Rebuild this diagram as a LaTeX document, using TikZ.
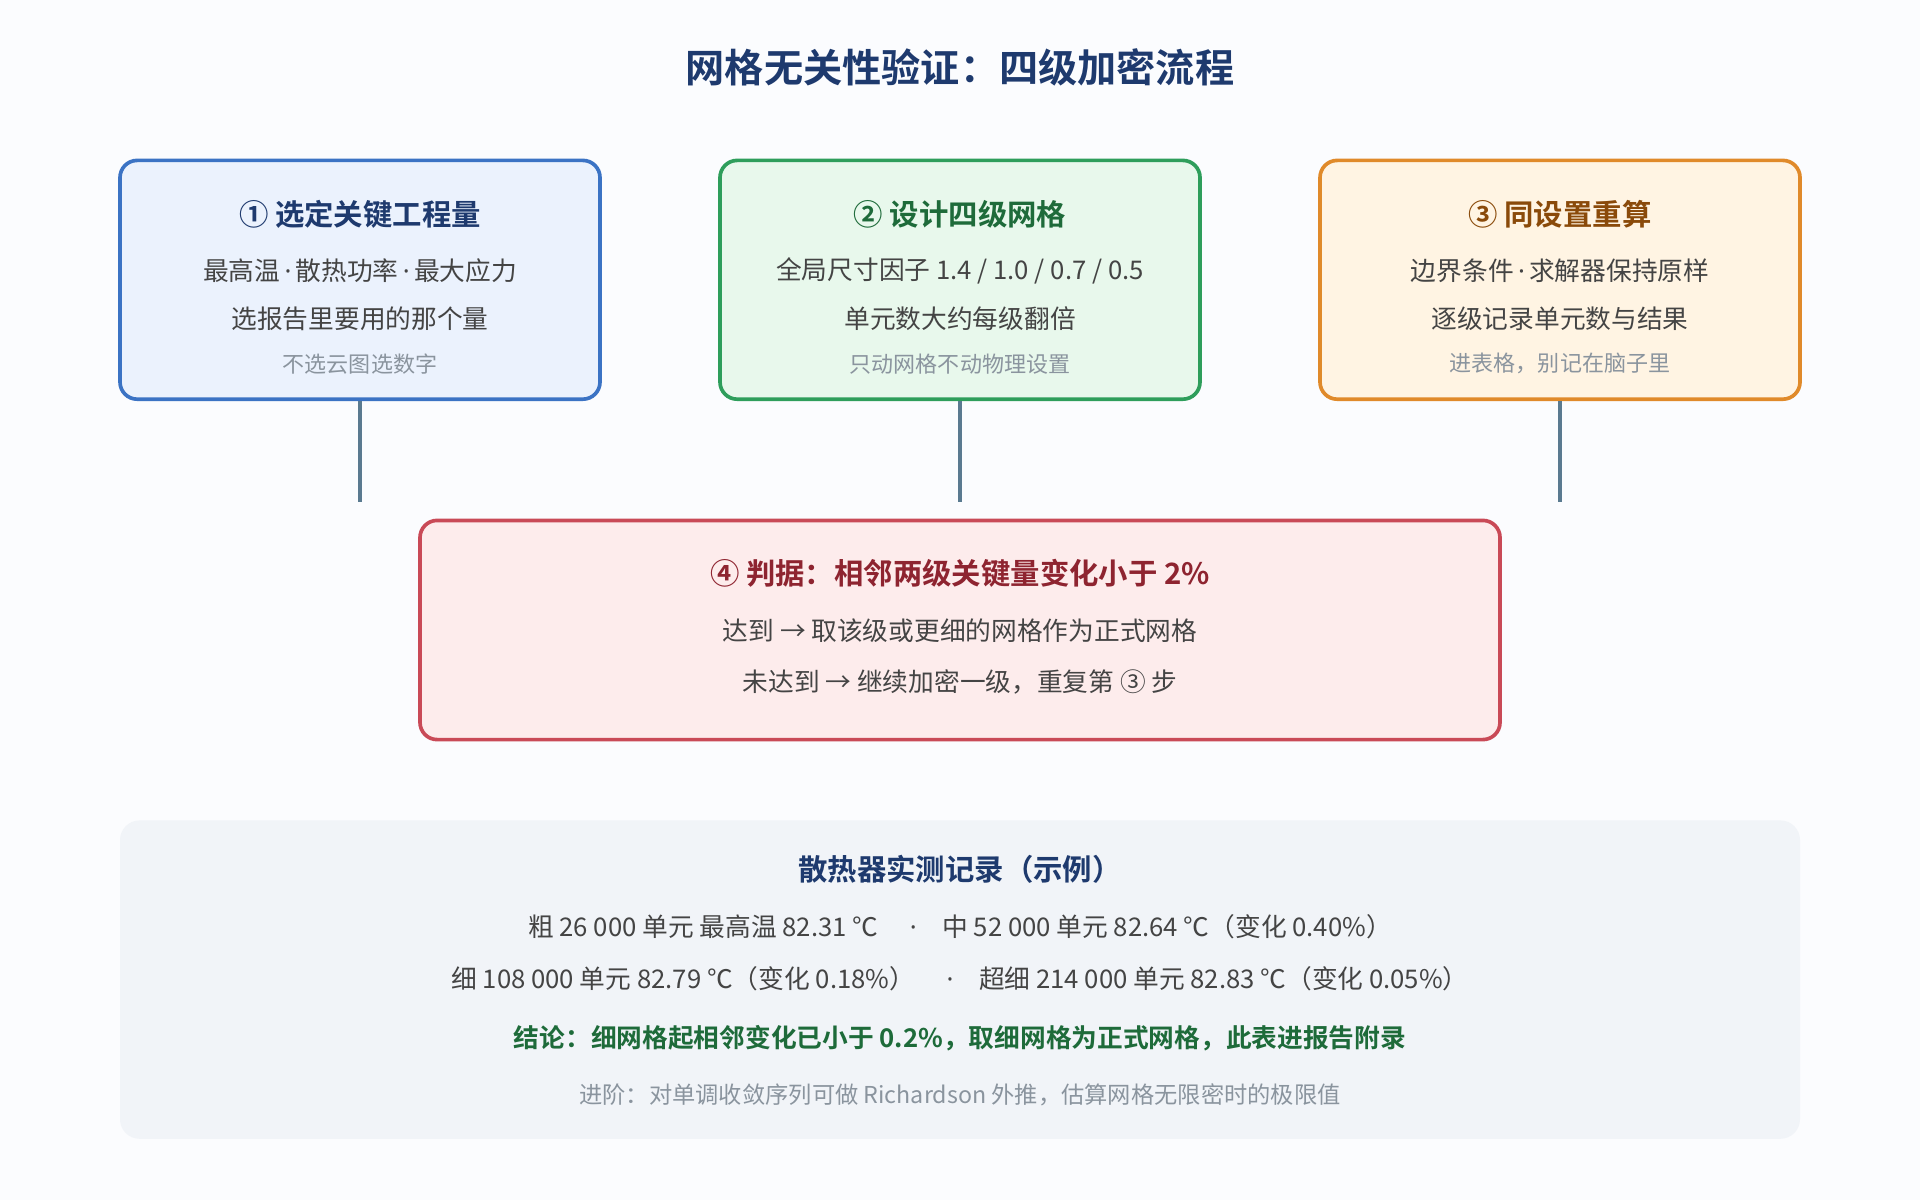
\documentclass[tikz,border=0pt]{standalone}
\usepackage{fontspec}
\setmainfont{Noto Sans CJK SC}
\newfontfamily\cjkb{Noto Sans CJK SC Bold}
\newfontfamily\latn{Noto Sans}
\newcommand{\md}{{\latn\,·\,}}
\definecolor{bg}{HTML}{FBFCFE}
\definecolor{b1}{HTML}{3B73C4}\definecolor{f1}{HTML}{EBF2FD}\definecolor{t1}{HTML}{1E3A6E}
\definecolor{b2}{HTML}{2E9E5B}\definecolor{f2}{HTML}{E8F8EC}\definecolor{t2}{HTML}{1E6B3A}
\definecolor{b3}{HTML}{E08A2A}\definecolor{f3}{HTML}{FFF4E3}\definecolor{t3}{HTML}{8A4A0A}
\definecolor{b4}{HTML}{C94A57}\definecolor{f4}{HTML}{FDECEC}\definecolor{t4}{HTML}{8E2430}
\definecolor{ln}{HTML}{5A7A90}\definecolor{body}{HTML}{444444}\definecolor{note}{HTML}{8A949E}
\definecolor{pan}{HTML}{F1F4F8}
\begin{document}
\begin{tikzpicture}[x=0.5pt,y=-0.5pt,
  box/.style={draw, line width=1.5pt, rounded corners=7pt},
  ttl/.style={font=\cjkb\fontsize{12}{14}\selectfont},
  bd/.style={text=body,font=\fontsize{10.5}{12}\selectfont},
  nt/.style={text=note,font=\fontsize{9}{11}\selectfont},
  con/.style={draw=ln,line width=1.5pt}]
\useasboundingbox[fill=bg] (0,0) rectangle (1568,980);
\node[font=\cjkb\fontsize{16}{18}\selectfont,text=t1] (title) at (784,55) {网格无关性验证：四级加密流程};
\node[box,draw=b1,fill=f1,minimum width=196pt,minimum height=97.5pt] (n1) at (294,228.5) {};
\node[box,draw=b2,fill=f2,minimum width=196pt,minimum height=97.5pt] (n2) at (784,228.5) {};
\node[box,draw=b3,fill=f3,minimum width=196pt,minimum height=97.5pt] (n3) at (1274,228.5) {};
\node[box,draw=b4,fill=f4,minimum width=441pt,minimum height=89.5pt] (n4) at (784,514.5) {};
\coordinate (c1) at (294,410);\coordinate (c2) at (784,410);\coordinate (c3) at (1274,410);
\draw[con] (n1.south) -- (c1); \draw[con] (n2.south) -- (c2); \draw[con] (n3.south) -- (c3);
\node[ttl,text=t1] (a1) at (294,175) {① 选定关键工程量};
\node[bd] (a2) at (294,221) {最高温\md 散热功率\md 最大应力};
\node[bd] (a3) at (294,260) {选报告里要用的那个量};
\node[nt] (a4) at (294,297) {不选云图选数字};
\node[ttl,text=t2] (b1n) at (784,175) {② 设计四级网格};
\node[bd] (b2n) at (784,221) {全局尺寸因子 1.4 / 1.0 / 0.7 / 0.5};
\node[bd] (b3n) at (784,260) {单元数大约每级翻倍};
\node[nt] (b4n) at (784,297) {只动网格不动物理设置};
\node[ttl,text=t3] (c1n) at (1274,175) {③ 同设置重算};
\node[bd] (c2n) at (1274,221) {边界条件\md 求解器保持原样};
\node[bd] (c3n) at (1274,260) {逐级记录单元数与结果};
\node[nt] (c4n) at (1274,297) {进表格，别记在脑子里};
\node[ttl,text=t4] (d1) at (784,468) {④ 判据：相邻两级关键量变化小于 2\%};
\node[bd] (d2) at (784,515) {达到 → 取该级或更细的网格作为正式网格};
\node[bd] (d3) at (784,557) {未达到 → 继续加密一级，重复第 ③ 步};
\fill[pan,rounded corners=8pt] (98,670) rectangle (1470,930);
\node[ttl,text=t1] (p1) at (784,710) {散热器实测记录（示例）};
\node[bd] (p2) at (784,757) {粗 26 000 单元 最高温 82.31 ℃ \quad{\latn·}\quad 中 52 000 单元 82.64 ℃（变化 0.40\%）};
\node[bd] (p3) at (784,799) {细 108 000 单元 82.79 ℃（变化 0.18\%） \quad{\latn·}\quad 超细 214 000 单元 82.83 ℃（变化 0.05\%）};
\node[text=t2,font=\cjkb\fontsize{10.5}{12}\selectfont] (p4) at (784,848) {结论：细网格起相邻变化已小于 0.2\%，取细网格为正式网格，此表进报告附录};
\node[nt,font=\fontsize{9.5}{11}\selectfont] (p5) at (784,894) {进阶：对单调收敛序列可做 Richardson 外推，估算网格无限密时的极限值};
\end{tikzpicture}
\end{document}
